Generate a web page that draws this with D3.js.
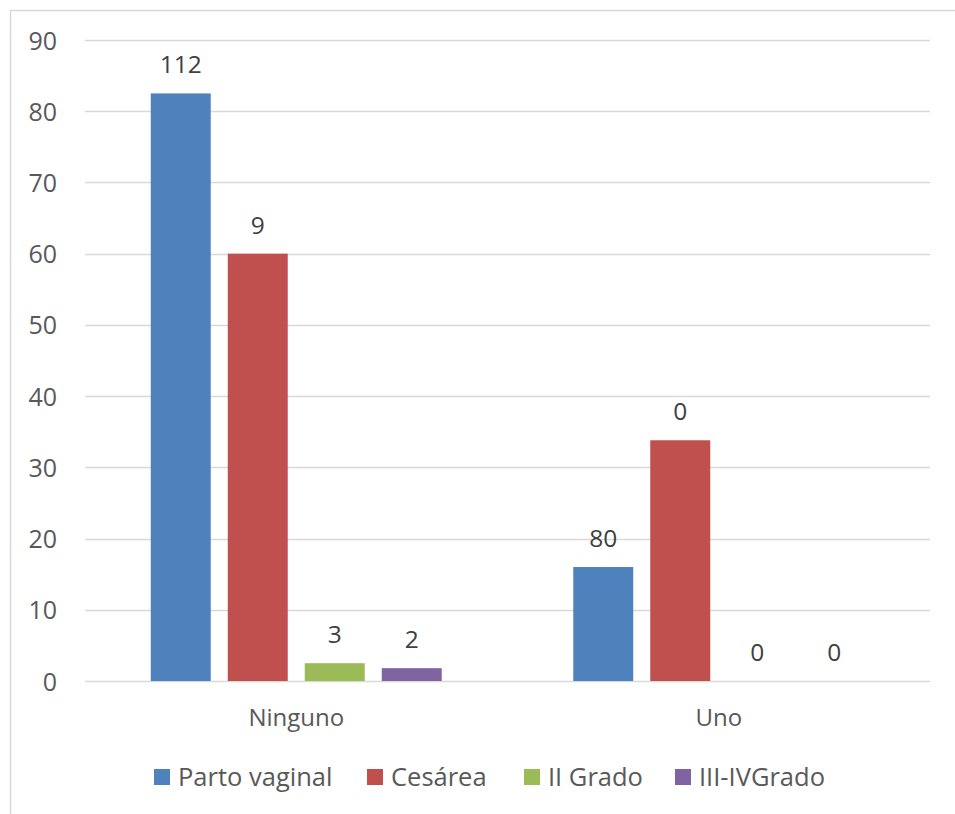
<!DOCTYPE html>
<html>
<head>
<meta charset="utf-8">
<script src="https://cdn.jsdelivr.net/npm/d3@7"></script>
<style>
  html, body { margin: 0; padding: 0; background: #fff; }
  svg { display: block; font-family: "Open Sans", Lato, sans-serif; }
</style>
</head>
<body>
<svg id="chart" width="955" height="814"></svg>
<script>
// Categories, series and values
const categories = ["Ninguno", "Uno"];
const seriesNames = ["Parto vaginal", "Cesárea", "II Grado", "III-IVGrado"];
const seriesColors = ["#4f81bd", "#c0504d", "#9bbb59", "#8064a2"];
// Bar heights per series, one entry per category
const partoVaginal = [82.5, 16.0];
const cesarea = [60.0, 33.8];
const iiGrado = [2.5, 0];
const iiiIvGrado = [1.8, 0];
// Data label text shown above each bar, per series
const partoVaginalLabels = ["112", "80"];
const cesareaLabels = ["9", "0"];
const iiGradoLabels = ["3", "0"];
const iiiIvGradoLabels = ["2", "0"];
const yTicks = [0, 10, 20, 30, 40, 50, 60, 70, 80, 90];

const seriesValues = [partoVaginal, cesarea, iiGrado, iiiIvGrado];
const seriesLabels = [partoVaginalLabels, cesareaLabels, iiGradoLabels, iiiIvGradoLabels];

const FONT = "'Open Sans', Lato, sans-serif";
const svg = d3.select("#chart");
const plot = { left: 85, right: 930, top: 40, bottom: 681 };

// Chart area frame (top and left edges visible)
svg.append("path")
  .attr("d", "M10.5,814 L10.5,10.5 L955,10.5")
  .attr("fill", "none").attr("stroke", "#d9d9d9").attr("stroke-width", 1.5);

const y = d3.scaleLinear().domain([0, 90]).range([plot.bottom, plot.top]);
const x0 = d3.scaleBand().domain(categories).range([plot.left, plot.right]).paddingInner(0).paddingOuter(0);
const x1 = d3.scaleBand().domain(seriesNames).range([0, x0.bandwidth()])
  .paddingInner(0.221).paddingOuter(0.854);

// Gridlines
svg.append("g").selectAll("line").data(yTicks).join("line")
  .attr("x1", plot.left).attr("x2", plot.right)
  .attr("y1", d => Math.round(y(d)) + 0.5).attr("y2", d => Math.round(y(d)) + 0.5)
  .attr("stroke", "#d9d9d9").attr("stroke-width", 1.5);

// Y axis tick labels
const yAxis = d3.axisLeft(y).tickValues(yTicks).tickSize(0).tickPadding(0);
const gy = svg.append("g").attr("transform", `translate(${plot.left - 28},0)`).call(yAxis);
gy.select(".domain").remove();
gy.selectAll("text").attr("font-size", 25).attr("fill", "#595959")
  .attr("font-family", FONT).attr("dy", "0.36em");

// Category axis labels
const xAxis = d3.axisBottom(x0).tickSize(0).tickPadding(0);
const gx = svg.append("g").attr("transform", `translate(0,726)`).call(xAxis);
gx.select(".domain").remove();
gx.selectAll("text").attr("font-size", 24).attr("fill", "#595959")
  .attr("font-family", FONT).attr("y", 0).attr("dy", 0);

// Bars and value labels
const rows = [];
seriesNames.forEach((s, i) => {
  categories.forEach((c, j) => {
    rows.push({ cat: c, series: s, value: seriesValues[i][j], label: seriesLabels[i][j], color: seriesColors[i] });
  });
});

svg.append("g").selectAll("rect").data(rows).join("rect")
  .attr("x", d => x0(d.cat) + x1(d.series))
  .attr("width", x1.bandwidth())
  .attr("y", d => y(d.value))
  .attr("height", d => y(0) - y(d.value))
  .attr("fill", d => d.color);

svg.append("g").selectAll("text").data(rows).join("text")
  .attr("x", d => x0(d.cat) + x1(d.series) + x1.bandwidth() / 2)
  .attr("y", d => y(d.value) - 20)
  .attr("text-anchor", "middle")
  .attr("font-size", 24.5).attr("fill", "#404040")
  .text(d => d.label);

// Legend
const legendX = [154, 367, 524, 675];
const lg = svg.append("g").selectAll("g").data(seriesNames).join("g")
  .attr("transform", (d, i) => `translate(${legendX[i]},769)`);
lg.append("rect").attr("width", 16).attr("height", 16).attr("fill", (d, i) => seriesColors[i]);
lg.append("text").attr("x", 24).attr("y", 17)
  .attr("font-size", 25.5).attr("fill", "#595959").text(d => d);
</script>
</body>
</html>
